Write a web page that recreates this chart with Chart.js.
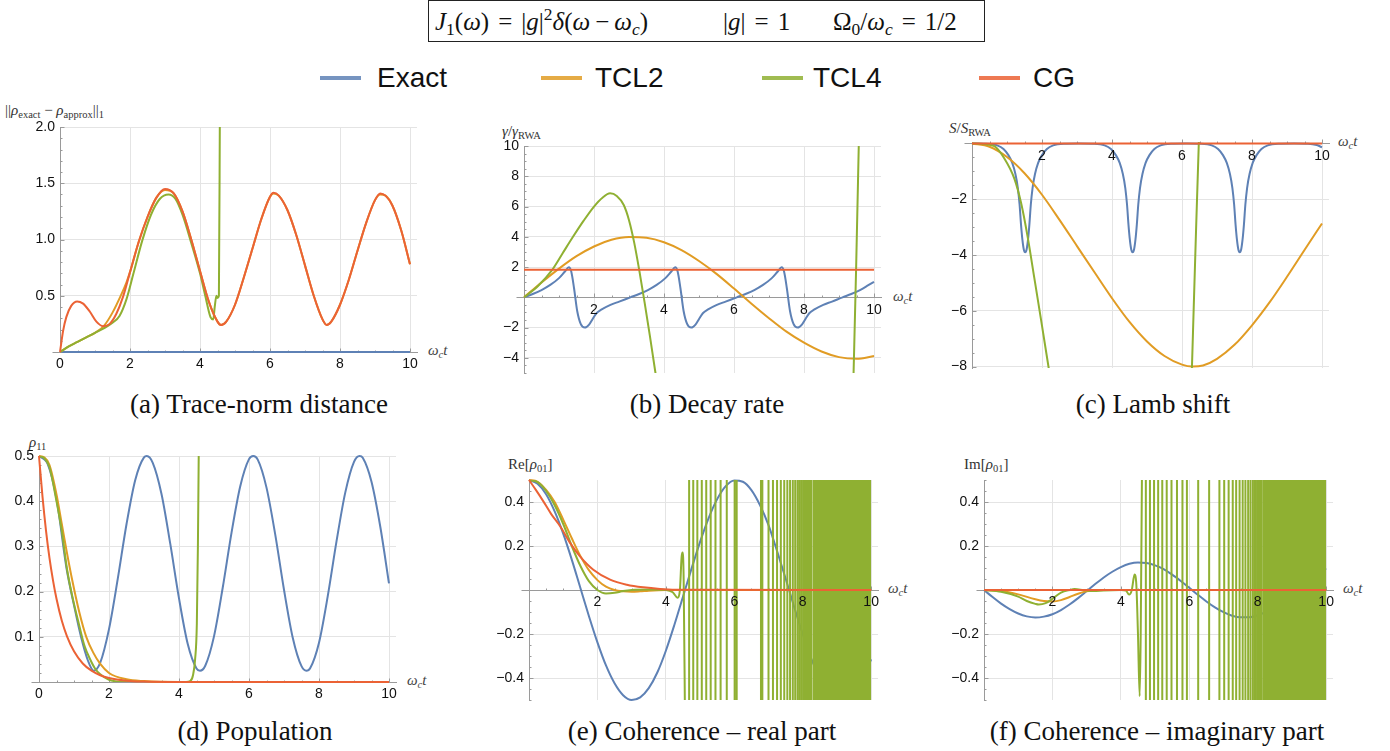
<!DOCTYPE html>
<html>
<head>
<meta charset="utf-8">
<script src="https://cdn.jsdelivr.net/npm/chart.js@4.4.1/dist/chart.umd.min.js"></script>
<style>
  body { margin: 0; width: 1390px; height: 751px; background: #fff; position: relative; overflow: hidden;
         font-family: "Liberation Serif", "DejaVu Serif", serif; color: #111; }
  canvas { position: absolute; }
  .abs { position: absolute; white-space: nowrap; line-height: 1; }
  sub { font-size: 0.7em; vertical-align: -0.3em; line-height: 0; }
  sup { font-size: 0.7em; vertical-align: 0.55em; line-height: 0; }
  .eq { margin: 0 9px; }
  .op { margin: 0 5px; }
  .titlebox { left: 428px; top: 0; width: 557px; height: 42px; border: 1px solid #222; box-sizing: border-box; }
  .tt { font-size: 25px; top: 21px; transform: translateY(-50%); }
  .leg { top: 78px; transform: translateY(-50%); font-family: "Liberation Sans", Arial, sans-serif; font-size: 28px; color: #111; }
  .legline { height: 4px; top: 76px; opacity: 0.85; }
  .ylab { font-size: 15px; color: #333; transform: translateY(-50%); }
  .xlab { font-size: 15px; color: #444; transform: translateY(-50%); }
  .cap { font-size: 27px; transform: translate(-50%, -50%); }
</style>
</head>
<body>
<div class="abs titlebox"></div>
<div class="abs tt" style="left:435px"><i>J</i><sub>1</sub>(<i>ω</i>)<span class="eq">=</span>|<i>g</i>|<sup>2</sup><i>δ</i>(<i>ω</i><span class="op">−</span><i>ω</i><sub><i>c</i></sub>)</div>
<div class="abs tt" style="left:723px">|<i>g</i>|<span class="eq">=</span>1</div>
<div class="abs tt" style="left:833px">Ω<sub>0</sub>/<i>ω</i><sub><i>c</i></sub><span class="eq">=</span>1/2</div>

<div id="legend"></div>

<div class="abs ylab" style="left:5px;top:110px">||<i>ρ</i><sub>exact</sub> − <i>ρ</i><sub>approx</sub>||<sub>1</sub></div>
<div class="abs ylab" style="left:502px;top:131px"><i>γ</i>/<i>γ</i><sub>RWA</sub></div>
<div class="abs ylab" style="left:949px;top:128px"><i>S</i>/<i>S</i><sub>RWA</sub></div>
<div class="abs ylab" style="left:29px;top:442px"><i>ρ</i><sub>11</sub></div>
<div class="abs ylab" style="left:508px;top:464px">Re[<i>ρ</i><sub>01</sub>]</div>
<div class="abs ylab" style="left:964px;top:464px">Im[<i>ρ</i><sub>01</sub>]</div>

<div class="abs xlab" style="left:428px;top:350px"><i>ω</i><sub><i>c</i></sub><i>t</i></div>
<div class="abs xlab" style="left:893px;top:296px"><i>ω</i><sub><i>c</i></sub><i>t</i></div>
<div class="abs xlab" style="left:1338px;top:141px"><i>ω</i><sub><i>c</i></sub><i>t</i></div>
<div class="abs xlab" style="left:407px;top:680px"><i>ω</i><sub><i>c</i></sub><i>t</i></div>
<div class="abs xlab" style="left:888px;top:588px"><i>ω</i><sub><i>c</i></sub><i>t</i></div>
<div class="abs xlab" style="left:1343px;top:588px"><i>ω</i><sub><i>c</i></sub><i>t</i></div>

<div class="abs cap" style="left:259px;top:404px">(a) Trace-norm distance</div>
<div class="abs cap" style="left:707px;top:404px">(b) Decay rate</div>
<div class="abs cap" style="left:1153px;top:404px">(c) Lamb shift</div>
<div class="abs cap" style="left:255px;top:731px">(d) Population</div>
<div class="abs cap" style="left:702px;top:731px">(e) Coherence – real part</div>
<div class="abs cap" style="left:1157px;top:731px">(f) Coherence – imaginary part</div>

<script>
// series shared by all six panels
const seriesNames = ['Exact', 'TCL2', 'TCL4', 'CG'];
const seriesColors = ['#5e81b5', '#e19c24', '#8fb032', '#eb6235'];

// tick values
const xTicksWithZero = [0, 2, 4, 6, 8, 10];
const xTicksNoZero = [2, 4, 6, 8, 10];
const traceYTicks = [0.5, 1.0, 1.5, 2.0];
const decayYTicks = [-4, -2, 2, 4, 6, 8, 10];
const lambYTicks = [-8, -6, -4, -2];
const popYTicks = [0.1, 0.2, 0.3, 0.4, 0.5];
const cohYTicks = [-0.4, -0.2, 0.2, 0.4];

// (a) trace-norm distance  [ωc t, value]
const traceExact = [[0, 0], [10, 0]];
const traceTcl2 = [[0, 0], [0.25, 0.05], [0.5, 0.09], [0.75, 0.13], [1, 0.17], [1.25, 0.23], [1.5, 0.35],
  [1.75, 0.51], [1.9, 0.62], [2, 0.71], [2.25, 0.98], [2.5, 1.2], [2.75, 1.37], [3, 1.44], [3.25, 1.41],
  [3.5, 1.25], [3.75, 1.0], [4, 0.72], [4.25, 0.45], [4.5, 0.27], [4.6, 0.24], [4.75, 0.27], [5, 0.42],
  [5.25, 0.66], [5.5, 0.92], [5.75, 1.18], [6, 1.38], [6.1, 1.41], [6.25, 1.39], [6.5, 1.26], [6.75, 1.04],
  [7, 0.77], [7.25, 0.5], [7.5, 0.29], [7.62, 0.24], [7.75, 0.27], [8, 0.42], [8.25, 0.64], [8.5, 0.9],
  [8.75, 1.15], [9, 1.35], [9.15, 1.4], [9.3, 1.39], [9.5, 1.3], [9.75, 1.08], [10, 0.78]];
const traceTcl4 = [[0, 0], [0.25, 0.05], [0.5, 0.09], [0.75, 0.13], [1, 0.17], [1.25, 0.21], [1.5, 0.26],
  [1.7, 0.32], [1.9, 0.47], [2.1, 0.7], [2.35, 0.99], [2.6, 1.22], [2.85, 1.36], [3.1, 1.4], [3.3, 1.36],
  [3.5, 1.22], [3.75, 0.97], [4, 0.7], [4.15, 0.5], [4.3, 0.31], [4.38, 0.29], [4.42, 0.4], [4.47, 0.5],
  [4.5, 0.48], [4.54, 0.5], [4.57, 2.3]];
const traceCg = [[0, 0], [0.09, 0.19], [0.18, 0.31], [0.32, 0.41], [0.49, 0.45], [0.66, 0.43], [0.85, 0.36],
  [1.04, 0.27], [1.23, 0.23], [1.42, 0.25], [1.61, 0.34], [1.8, 0.49], [2, 0.71], [2.25, 0.98], [2.5, 1.2],
  [2.75, 1.37], [3, 1.45], [3.25, 1.41], [3.5, 1.25], [3.75, 1.0], [4, 0.72], [4.25, 0.45], [4.5, 0.27],
  [4.6, 0.24], [4.75, 0.27], [5, 0.42], [5.25, 0.66], [5.5, 0.92], [5.75, 1.18], [6, 1.38], [6.1, 1.415],
  [6.25, 1.39], [6.5, 1.26], [6.75, 1.04], [7, 0.77], [7.25, 0.5], [7.5, 0.29], [7.62, 0.24], [7.75, 0.27],
  [8, 0.42], [8.25, 0.64], [8.5, 0.9], [8.75, 1.15], [9, 1.35], [9.15, 1.41], [9.3, 1.39], [9.5, 1.3],
  [9.75, 1.08], [10, 0.78]];

// (b) decay rate
const decayExact = [[0, 0], [0.25, 0.22], [0.5, 0.48], [0.75, 0.82], [1, 1.27], [1.17, 1.71], [1.28, 1.98],
  [1.35, 1.7], [1.43, 0.6], [1.52, -0.9], [1.62, -1.75], [1.74, -2.0], [1.86, -1.8], [1.97, -1.4],
  [2.07, -1.05], [2.22, -0.8], [2.47, -0.5], [2.72, -0.28], [3.04, 0], [3.29, 0.22], [3.54, 0.48],
  [3.79, 0.82], [4.04, 1.27], [4.21, 1.71], [4.32, 1.98], [4.39, 1.7], [4.47, 0.6], [4.56, -0.9],
  [4.66, -1.75], [4.78, -2.0], [4.9, -1.8], [5.01, -1.4], [5.11, -1.05], [5.26, -0.8], [5.51, -0.5],
  [5.76, -0.28], [6.08, 0], [6.33, 0.22], [6.58, 0.48], [6.83, 0.82], [7.08, 1.27], [7.25, 1.71],
  [7.36, 1.98], [7.43, 1.7], [7.51, 0.6], [7.6, -0.9], [7.7, -1.75], [7.82, -2.0], [7.94, -1.8],
  [8.05, -1.4], [8.15, -1.05], [8.3, -0.8], [8.55, -0.5], [8.8, -0.28], [9.1, 0], [9.35, 0.22],
  [9.6, 0.48], [9.85, 0.82], [10, 1.02]];
const decayTcl2 = [[0, 0], [0.5, 0.98], [1, 1.9], [1.5, 2.72], [2, 3.36], [2.5, 3.8], [3, 3.98], [3.5, 3.93],
  [4, 3.64], [4.5, 3.12], [5, 2.4], [5.5, 1.55], [6, 0.58], [6.5, -0.42], [7, -1.38], [7.5, -2.27],
  [8, -3.0], [8.5, -3.58], [9, -3.95], [9.5, -4.06], [10, -3.88]];
const decayTcl4 = [[0, 0], [0.4, 0.75], [0.8, 1.8], [1.1, 2.9], [1.4, 4.0], [1.7, 5.05], [2, 6.0],
  [2.25, 6.6], [2.46, 6.87], [2.65, 6.7], [2.85, 6.1], [3, 5.1], [3.15, 3.6], [3.3, 1.7], [3.45, -0.4],
  [3.6, -2.6], [3.75, -4.9], [3.8, -5.6], [3.81, null], [9.41, -5.6], [9.49, 2.0], [9.57, 10.6]];
const decayCg = [[0, 1.82], [10, 1.82]];

// (c) Lamb shift
const lambExact = [[0, 0], [0.42, -0.01], [0.72, -0.07], [0.9, -0.2], [1.04, -0.42], [1.15, -0.7],
  [1.24, -1.1], [1.31, -1.6], [1.36, -2.2], [1.4, -2.9], [1.44, -3.45], [1.48, -3.8], [1.52, -3.9],
  [1.56, -3.8], [1.6, -3.45], [1.64, -2.9], [1.68, -2.2], [1.73, -1.6], [1.8, -1.1], [1.89, -0.7],
  [2.0, -0.42], [2.14, -0.2], [2.32, -0.07], [2.62, -0.01], [3.05, 0], [3.49, -0.01], [3.79, -0.07],
  [3.97, -0.2], [4.11, -0.42], [4.22, -0.7], [4.31, -1.1], [4.38, -1.6], [4.43, -2.2], [4.47, -2.9],
  [4.51, -3.45], [4.55, -3.8], [4.59, -3.9], [4.63, -3.8], [4.67, -3.45], [4.71, -2.9], [4.75, -2.2],
  [4.8, -1.6], [4.87, -1.1], [4.96, -0.7], [5.07, -0.42], [5.21, -0.2], [5.39, -0.07], [5.69, -0.01],
  [6.12, 0], [6.55, -0.01], [6.85, -0.07], [7.03, -0.2], [7.17, -0.42], [7.28, -0.7], [7.37, -1.1],
  [7.44, -1.6], [7.49, -2.2], [7.53, -2.9], [7.57, -3.45], [7.61, -3.8], [7.65, -3.9], [7.69, -3.8],
  [7.73, -3.45], [7.77, -2.9], [7.81, -2.2], [7.86, -1.6], [7.93, -1.1], [8.02, -0.7], [8.13, -0.42],
  [8.27, -0.2], [8.45, -0.07], [8.75, -0.01], [9.2, 0], [9.6, -0.01], [9.85, -0.06], [10, -0.14]];
const lambTcl2 = [[0, 0], [0.5, -0.12], [1, -0.49], [1.5, -1.07], [2, -1.84], [2.5, -2.74], [3, -3.68],
  [3.5, -4.62], [4, -5.55], [4.5, -6.4], [5, -7.1], [5.5, -7.62], [6, -7.93], [6.3, -8.0], [6.6, -7.96],
  [7, -7.72], [7.5, -7.22], [8, -6.52], [8.5, -5.7], [9, -4.78], [9.5, -3.82], [10, -2.87]];
const lambTcl4 = [[0, 0], [0.32, -0.02], [0.64, -0.1], [0.92, -0.53], [1.21, -1.26], [1.4, -2.12],
  [1.59, -3.35], [1.78, -4.82], [1.97, -6.3], [2.21, -8.2], [2.22, null], [6.28, -8.2], [6.38, -4],
  [6.48, 0], [6.5, 0.6]];
const lambCg = [[0, 0], [10, 0]];

// (d) population
const popExact = [[0, 0.5], [0.25, 0.482], [0.5, 0.405], [0.79, 0.25], [1, 0.17], [1.2, 0.1], [1.4, 0.047],
  [1.56, 0.025], [1.75, 0.043], [2, 0.117], [2.25, 0.228], [2.5, 0.349], [2.75, 0.447], [3, 0.497],
  [3.08, 0.5], [3.25, 0.485], [3.5, 0.416], [3.75, 0.306], [4, 0.185], [4.25, 0.084], [4.5, 0.03],
  [4.6, 0.025], [4.75, 0.036], [5, 0.101], [5.25, 0.209], [5.5, 0.33], [5.75, 0.433], [6, 0.493],
  [6.12, 0.5], [6.25, 0.492], [6.5, 0.43], [6.75, 0.326], [7, 0.204], [7.25, 0.098], [7.5, 0.035],
  [7.64, 0.025], [7.75, 0.031], [8, 0.087], [8.25, 0.19], [8.5, 0.311], [8.75, 0.419], [9, 0.487],
  [9.16, 0.5], [9.25, 0.496], [9.5, 0.443], [9.75, 0.344], [10, 0.218]];
const popTcl2 = [[0, 0.5], [0.15, 0.497], [0.3, 0.48], [0.5, 0.415], [0.65, 0.35], [0.8, 0.285],
  [0.95, 0.225], [1.15, 0.155], [1.35, 0.1], [1.55, 0.065], [1.75, 0.04], [2, 0.02], [2.5, 0.006],
  [3, 0.002], [4, 0], [10, 0]];
const popTcl4 = [[0, 0.5], [0.15, 0.495], [0.3, 0.475], [0.5, 0.4], [0.65, 0.335], [0.8, 0.25],
  [0.95, 0.19], [1.15, 0.125], [1.3, 0.08], [1.45, 0.052], [1.6, 0.03], [1.75, 0.017], [2, 0.005],
  [2.5, 0], [4.2, 0], [4.32, 0.002], [4.4, 0.015], [4.46, 0.05], [4.51, 0.13], [4.54, 0.3], [4.57, 0.56]];
const popCg = [[0, 0.5], [0.1, 0.41], [0.2, 0.335], [0.3, 0.274], [0.4, 0.225], [0.5, 0.184], [0.65, 0.136],
  [0.8, 0.101], [1, 0.068], [1.25, 0.041], [1.5, 0.025], [1.75, 0.015], [2, 0.009], [2.5, 0.003],
  [3, 0.001], [4, 0], [10, 0]];

// (e) coherence, real part
const reExact = [[0, 0.5], [0.25, 0.483], [0.5, 0.435], [0.75, 0.357], [1, 0.256], [1.25, 0.138],
  [1.5, 0.01], [1.75, -0.118], [2, -0.238], [2.25, -0.343], [2.5, -0.424], [2.75, -0.478], [3, -0.5],
  [3.25, -0.488], [3.5, -0.446], [3.75, -0.375], [4, -0.276], [4.25, -0.158], [4.5, -0.031], [4.75, 0.097],
  [5, 0.219], [5.25, 0.327], [5.5, 0.413], [5.75, 0.472], [6, 0.498], [6.25, 0.492], [6.5, 0.454],
  [6.75, 0.386], [7, 0.295], [7.25, 0.177], [7.5, 0.052], [7.75, -0.077], [8, -0.2], [8.25, -0.312],
  [8.5, -0.401], [8.75, -0.465], [9, -0.496], [9.25, -0.496], [9.5, -0.463], [9.75, -0.402], [10, -0.315]];
const reTcl2 = [[0, 0.5], [0.25, 0.492], [0.5, 0.455], [0.75, 0.4], [1, 0.32], [1.25, 0.235], [1.5, 0.155],
  [1.75, 0.09], [2, 0.045], [2.25, 0.015], [2.5, 0], [2.75, -0.006], [3, -0.008], [3.25, -0.006],
  [3.5, -0.003], [4, 0], [10, 0]];
const reTcl4 = [[0, 0.5], [0.25, 0.49], [0.5, 0.45], [0.75, 0.385], [1, 0.3], [1.25, 0.2], [1.5, 0.11],
  [1.75, 0.04], [2, 0], [2.25, -0.016], [2.5, -0.013], [2.75, -0.005], [3, 0], [3.5, 0.002], [4, 0],
  [4.2, -0.01], [4.34, -0.035], [4.41, 0], [4.46, 0.15], [4.49, 0.17], [4.52, 0.05], [4.56, -0.6]];
const reCg = [[0, 0.5], [0.2, 0.455], [0.42, 0.403], [0.65, 0.345], [0.91, 0.29], [1.2, 0.214], [1.49, 0.153],
  [1.88, 0.092], [2.37, 0.047], [2.86, 0.024], [3.34, 0.012], [3.83, 0.005], [4.5, 0.001], [10, 0]];
// TCL4 leaves the range and comes back: ωc t of each crossing, then the solid band
const reTcl4Crossings = [4.68, 4.8, 4.92, 5.05, 5.18, 5.31, 5.45, 5.6, 5.78, 6.01, 6.07, 6.78, 6.82, 7.0,
  7.13, 7.25, 7.36, 7.46, 7.55, 7.63, 7.71, 7.78, 7.85, 7.91, 7.97, 8.03, 8.08, 8.13, 8.18, 8.22, 8.26];
const reTcl4Band = [8.3, 10];

// (f) coherence, imaginary part
const imExact = [[0, 0], [0.25, -0.032], [0.5, -0.062], [0.75, -0.087], [1, -0.107], [1.25, -0.12],
  [1.5, -0.125], [1.75, -0.121], [2, -0.11], [2.25, -0.091], [2.5, -0.066], [2.75, -0.037], [3, -0.005],
  [3.25, 0.027], [3.5, 0.057], [3.75, 0.083], [4, 0.104], [4.25, 0.119], [4.5, 0.125], [4.75, 0.123],
  [5, 0.112], [5.25, 0.095], [5.5, 0.07], [5.75, 0.041], [6, 0.01], [6.25, -0.022], [6.5, -0.052],
  [6.75, -0.079], [7, -0.101], [7.25, -0.117], [7.5, -0.124], [7.75, -0.124], [8, -0.115], [8.25, -0.098],
  [8.5, -0.075], [8.75, -0.046], [9, -0.016], [9.25, 0.016], [9.5, 0.047], [9.75, 0.074], [10, 0.098]];
const imTcl2 = [[0, 0], [0.5, -0.005], [1, -0.02], [1.5, -0.042], [1.75, -0.05], [2, -0.052], [2.25, -0.046],
  [2.5, -0.032], [2.75, -0.017], [3, -0.006], [3.5, 0], [10, 0]];
const imTcl4 = [[0, 0], [0.5, -0.008], [1, -0.03], [1.25, -0.05], [1.5, -0.063], [1.6, -0.066], [1.8, -0.06],
  [2, -0.04], [2.25, -0.012], [2.5, 0], [2.65, 0.004], [2.9, 0], [3.2, -0.005], [3.5, -0.002], [4, 0],
  [4.15, -0.003], [4.24, -0.021], [4.32, 0], [4.4, 0.07], [4.45, 0.03], [4.5, -0.2], [4.55, -0.483],
  [4.58, -0.2], [4.62, 0.6]];
const imCg = [[0, 0], [10, 0]];
const imTcl4Crossings = [4.73, 4.85, 4.97, 5.09, 5.21, 5.34, 5.48, 5.64, 5.8, 5.93, 6.26, 6.58, 6.88, 7.02,
  7.15, 7.27, 7.37, 7.47, 7.56, 7.64, 7.72, 7.79, 7.86, 7.92, 7.98, 8.03, 8.08, 8.12];
const imTcl4Band = [8.15, 10];

// panel layout (chart area in page pixels) and axis settings
const panels = [
  { area: [60, 127, 417, 352], series: [traceExact, traceTcl2, traceTcl4, traceCg], xTicks: xTicksWithZero,
    yTicks: traceYTicks, yMin: 0, yMax: 2, dec: 1, xMinor: 0.5, yMinor: 0.1, yMajor: 0.5 },
  { area: [524, 146, 881, 373], series: [decayExact, decayTcl2, decayTcl4, decayCg], xTicks: xTicksNoZero,
    yTicks: decayYTicks, yMin: -5, yMax: 10, dec: 0, xMinor: 0.5, yMinor: 0.5, yMajor: 2 },
  { area: [972, 142, 1329, 368], series: [lambExact, lambTcl2, lambTcl4, lambCg], xTicks: xTicksNoZero,
    yTicks: lambYTicks, yMin: -8.05, yMax: 0.05, dec: 0, xMinor: 0.5, yMinor: 0.5, yMajor: 2 },
  { area: [39, 456, 396, 682], series: [popExact, popTcl2, popTcl4, popCg], xTicks: xTicksWithZero,
    yTicks: popYTicks, yMin: 0, yMax: 0.5, dec: 1, xMinor: 0.5, yMinor: 0.02, yMajor: 0.1 },
  { area: [529, 480, 878, 700], series: [reExact, reTcl2, reTcl4, reCg], xTicks: xTicksNoZero,
    yTicks: cohYTicks, yMin: -0.5, yMax: 0.5, dec: 1, xMinor: 0.5, yMinor: 0.05, yMajor: 0.2,
    crossings: reTcl4Crossings, firstUp: true, band: reTcl4Band },
  { area: [984, 480, 1333, 700], series: [imExact, imTcl2, imTcl4, imCg], xTicks: xTicksNoZero,
    yTicks: cohYTicks, yMin: -0.5, yMax: 0.5, dec: 1, xMinor: 0.5, yMinor: 0.05, yMajor: 0.2,
    crossings: imTcl4Crossings, firstUp: false, band: imTcl4Band }
];

function fmt(v, dec) {
  const s = Math.abs(v).toFixed(dec);
  return v < 0 ? '\u2212' + s : s;
}

// small Mathematica-style tick marks on the axes, plus the short stub of the x axis left of the y axis
const axisTicks = {
  id: 'axisTicks',
  beforeDatasetsDraw(chart, args, o) {
    const { ctx, chartArea, scales: { x, y } } = chart;
    const y0 = Math.round(y.getPixelForValue(0)) + 0.5;
    const x0 = Math.round(chartArea.left) + 0.5;
    const isMajor = (v, step) => Math.abs(v / step - Math.round(v / step)) < 1e-6;
    ctx.save();
    ctx.strokeStyle = '#9a9a9a';
    ctx.lineWidth = 1;
    ctx.beginPath();
    ctx.moveTo(x0 - 8, y0);
    ctx.lineTo(x0, y0);
    for (let k = 1; k * o.xMinor <= 10 + 1e-9; k++) {
      const v = k * o.xMinor;
      const px = Math.round(x.getPixelForValue(v)) + 0.5;
      const len = isMajor(v, 2) ? 4 : 2;
      ctx.moveTo(px, y0);
      ctx.lineTo(px, y0 - len);
    }
    const k0 = Math.ceil(y.min / o.yMinor - 1e-9), k1 = Math.floor(y.max / o.yMinor + 1e-9);
    for (let k = k0; k <= k1; k++) {
      const v = k * o.yMinor;
      const py = Math.round(y.getPixelForValue(v)) + 0.5;
      const len = isMajor(v, o.yMajor) ? 4 : 2;
      ctx.moveTo(x0, py);
      ctx.lineTo(x0 + len, py);
    }
    ctx.stroke();
    ctx.restore();
  }
};

function makePanel(p) {
  const [l, t, r, b] = p.area;
  const labelRoom = 60;
  const pad = { left: 0, top: 20, right: 20, bottom: 30 };
  const canvas = document.createElement('canvas');
  canvas.width = r - l + labelRoom + pad.right;
  canvas.height = b - t + pad.top + pad.bottom;
  canvas.style.left = (l - labelRoom) + 'px';
  canvas.style.top = (t - pad.top) + 'px';
  document.body.appendChild(canvas);

  const datasets = p.series.map((pts, i) => ({
    label: seriesNames[i],
    data: pts.map(([x, y]) => ({ x, y })),
    borderColor: seriesColors[i],
    borderWidth: 2,
    pointRadius: 0,
    fill: false,
    cubicInterpolationMode: 'monotone',
    order: 3 - i,
    clip: i === 2 ? 0 : 3
  }));

  if (p.crossings) {
    // off-scale swings of TCL4: one vertical pass through the plot per crossing
    const lo = p.yMin - 0.1, hi = p.yMax + 0.1;
    let up = p.firstUp;
    const swings = [];
    p.crossings.forEach(cx => {
      swings.push({ x: cx, y: up ? lo : hi }, { x: cx, y: up ? hi : lo });
      up = !up;
    });
    datasets.push({
      label: 'TCL4', data: swings, borderColor: seriesColors[2], borderWidth: 2,
      pointRadius: 0, fill: false, tension: 0, order: 1, clip: 0
    });
    datasets.push({
      label: 'TCL4', data: p.band.map(x => ({ x, y: p.yMax })),
      borderColor: seriesColors[2], backgroundColor: seriesColors[2], borderWidth: 0,
      pointRadius: 0, fill: { value: p.yMin }, order: 1, clip: 0
    });
  }

  new Chart(canvas, {
    type: 'line',
    data: { datasets },
    options: {
      responsive: false,
      animation: false,
      spanGaps: false,
      layout: { padding: pad },
      plugins: {
        legend: { display: false },
        tooltip: { enabled: false },
        axisTicks: { xMinor: p.xMinor, yMinor: p.yMinor, yMajor: p.yMajor }
      },
      scales: {
        x: {
          type: 'linear', min: 0, max: 10.2, position: { y: 0 },
          afterFit: s => { s.height = 0; },
          afterBuildTicks: s => { s.ticks = p.xTicks.map(v => ({ value: v })); },
          grid: { color: '#e4e4e4', lineWidth: 1, drawTicks: false },
          border: { color: '#9a9a9a', width: 1 },
          ticks: { z: 1, padding: 4, color: '#111', maxRotation: 0, autoSkip: false,
                   font: { family: 'Liberation Sans', size: 14 }, callback: v => fmt(v, 0) }
        },
        y: {
          type: 'linear', min: p.yMin, max: p.yMax, position: 'left',
          afterFit: s => { s.width = labelRoom; },
          afterBuildTicks: s => { s.ticks = p.yTicks.map(v => ({ value: v })); },
          grid: { color: '#e4e4e4', lineWidth: 1, drawTicks: false },
          border: { color: '#9a9a9a', width: 1 },
          ticks: { padding: 5, color: '#111', autoSkip: false,
                   font: { family: 'Liberation Sans', size: 14 }, callback: v => fmt(v, p.dec) }
        }
      }
    },
    plugins: [axisTicks]
  });
}

panels.forEach(makePanel);

// shared legend
const legendPos = [[320, 377], [541, 595], [762, 813], [979, 1033]];
const legend = document.getElementById('legend');
seriesNames.forEach((name, i) => {
  const line = document.createElement('div');
  line.className = 'abs legline';
  line.style.left = legendPos[i][0] + 'px';
  line.style.width = '41px';
  line.style.background = seriesColors[i];
  legend.appendChild(line);
  const txt = document.createElement('div');
  txt.className = 'abs leg';
  txt.style.left = legendPos[i][1] + 'px';
  txt.textContent = name;
  legend.appendChild(txt);
});
</script>
</body>
</html>
